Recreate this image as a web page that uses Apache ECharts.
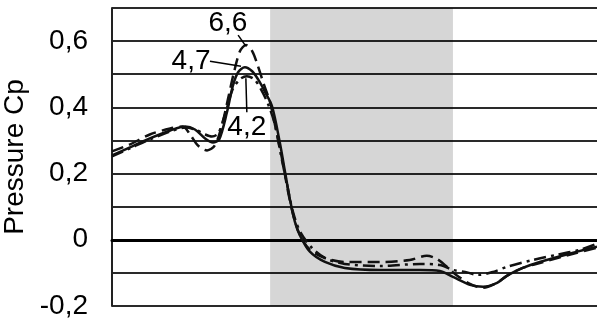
<!DOCTYPE html>
<html>
<head>
<meta charset="utf-8">
<script src="https://cdn.jsdelivr.net/npm/echarts@6/dist/echarts.min.js"></script>
<style>html,body{margin:0;padding:0;background:#fff}#c{width:597px;height:320px}</style>
</head>
<body>
<div id="c"></div>
<script>
// Chord position (%) and pressure coefficient values
var xSolid = [0,3.7,7.8,12.0,15.1,17.1,19.2,20.8,22.1,23.7,24.9,26.0,27.4,28.9,30.1,31.5,33.0,34.6,35.7,36.7,37.7,38.8,40.8,43.9,48.0,55.3,63.5,67.6,70.3,73.8,76.5,79.4,81.4,84.7,88.2,95.1,100];
var ySolid = [0.255,0.279,0.306,0.330,0.342,0.333,0.306,0.294,0.303,0.385,0.464,0.506,0.521,0.509,0.485,0.448,0.403,0.294,0.203,0.121,0.055,0.012,-0.036,-0.067,-0.085,-0.091,-0.091,-0.094,-0.112,-0.136,-0.142,-0.130,-0.109,-0.085,-0.067,-0.039,-0.021];

var xDashed = [0,3.7,7.8,12.0,14.6,16.1,17.7,19.6,21.2,22.7,23.9,25.2,26.4,27.6,28.9,30.1,31.3,32.6,33.8,35.1,36.3,37.5,38.8,40.8,43.9,48.0,55.3,61.4,64.9,67.0,69.1,70.7,73.8,76.5,79.4,81.4,84.7,88.2,95.1,100];
var yDashed = [0.267,0.288,0.318,0.336,0.342,0.318,0.285,0.270,0.285,0.348,0.424,0.509,0.570,0.588,0.570,0.524,0.470,0.415,0.333,0.242,0.145,0.067,0.012,-0.030,-0.055,-0.067,-0.067,-0.061,-0.048,-0.058,-0.082,-0.103,-0.133,-0.145,-0.130,-0.109,-0.085,-0.070,-0.042,-0.024];

var xDashDot = [0,3.7,7.8,12.0,15.1,17.1,19.2,20.6,21.9,23.5,24.9,26.4,27.8,29.3,30.7,32.2,33.6,34.8,36.1,37.3,38.8,41.2,43.9,48.0,55.3,63.5,67.6,70.3,72.8,75.5,78.6,81.4,86.8,91.8,96.5,100];
var yDashDot = [0.252,0.276,0.303,0.327,0.339,0.333,0.318,0.312,0.321,0.388,0.455,0.485,0.494,0.485,0.455,0.409,0.348,0.258,0.167,0.085,0.024,-0.024,-0.055,-0.073,-0.079,-0.073,-0.076,-0.091,-0.097,-0.106,-0.097,-0.082,-0.061,-0.045,-0.030,-0.012];

// Shaded zone (chord %)
var zoneStart = 32.6, zoneEnd = 70.3;

// Annotations: text, label position, leader line start/end
var annoText = ['6,6', '4,7', '4,2'];
var annoPos = [[23.9, 0.655], [16.3, 0.539], [27.8, 0.339]];
var leaderFrom = [[26.0, 0.618], [20.2, 0.539], [27.8, 0.385]];
var leaderTo = [[27.6, 0.585], [26.6, 0.524], [27.6, 0.488]];

// Y axis
var yMin = -0.2, yMax = 0.7, yStep = 0.1;

function pairs(xs, ys) { return xs.map(function (x, i) { return [x, ys[i]]; }); }

var font = 'Liberation Sans, Arial, sans-serif';
var lineColor = '#111';

var chart = echarts.init(document.getElementById('c'), null, {renderer: 'canvas'});
chart.setOption({
  animation: false,
  grid: {left: 112, right: 0, top: 8, bottom: 14, containLabel: false, outerBoundsMode: 'none'},
  xAxis: {
    type: 'value', min: 0, max: 100,
    axisLine: {show: true, onZero: true, lineStyle: {color: '#000', width: 3}},
    axisTick: {show: false}, axisLabel: {show: false}, splitLine: {show: false}
  },
  yAxis: {
    type: 'value', min: yMin, max: yMax, interval: yStep,
    name: 'Pressure Cp', nameLocation: 'middle', nameRotate: 90, nameGap: 76,
    nameTextStyle: {fontFamily: font, fontSize: 28, color: '#000'},
    axisLine: {show: true, lineStyle: {color: '#222', width: 2}},
    axisTick: {show: false},
    axisLabel: {
      margin: 24, fontFamily: font, fontSize: 28, color: '#000',
      formatter: function (v) {
        var k = Math.round(v * 10);
        if (k % 2 !== 0 || k > 6) return '';
        if (k === 0) return '0';
        return (k / 10).toFixed(1).replace('.', ',');
      }
    },
    splitLine: {show: true, lineStyle: {color: '#2a2a2a', width: 2}}
  },
  series: [
    {
      type: 'line', data: [], silent: true,
      markArea: {silent: true, itemStyle: {color: 'rgba(0,0,0,0.16)'}, data: [[{xAxis: zoneStart}, {xAxis: zoneEnd}]]}
    },
    {
      name: '4,7', type: 'line', smooth: 0.3, symbol: 'none',
      data: pairs(xSolid, ySolid),
      lineStyle: {color: lineColor, width: 2.5}
    },
    {
      name: '6,6', type: 'line', smooth: 0.3, symbol: 'none',
      data: pairs(xDashed, yDashed),
      lineStyle: {color: lineColor, width: 2.5, type: [12, 6]}
    },
    {
      name: '4,2', type: 'line', smooth: 0.3, symbol: 'none',
      data: pairs(xDashDot, yDashDot),
      lineStyle: {color: lineColor, width: 2.5, type: [12, 5, 3, 5]}
    },
    {
      type: 'scatter', symbolSize: 0, silent: true,
      itemStyle: {opacity: 1, color: '#000'},
      data: annoPos.map(function (p, i) { return {value: p, name: annoText[i]}; }),
      label: {show: true, position: 'inside', formatter: '{b}', fontFamily: font, fontSize: 28, color: '#000', opacity: 1, textBorderWidth: 0},
      markLine: {
        silent: true, symbol: 'none', label: {show: false},
        lineStyle: {color: '#000', width: 1.5, type: 'solid', opacity: 1},
        data: leaderFrom.map(function (p, i) { return [{coord: p}, {coord: leaderTo[i]}]; })
      }
    }
  ]
});
</script>
</body>
</html>
